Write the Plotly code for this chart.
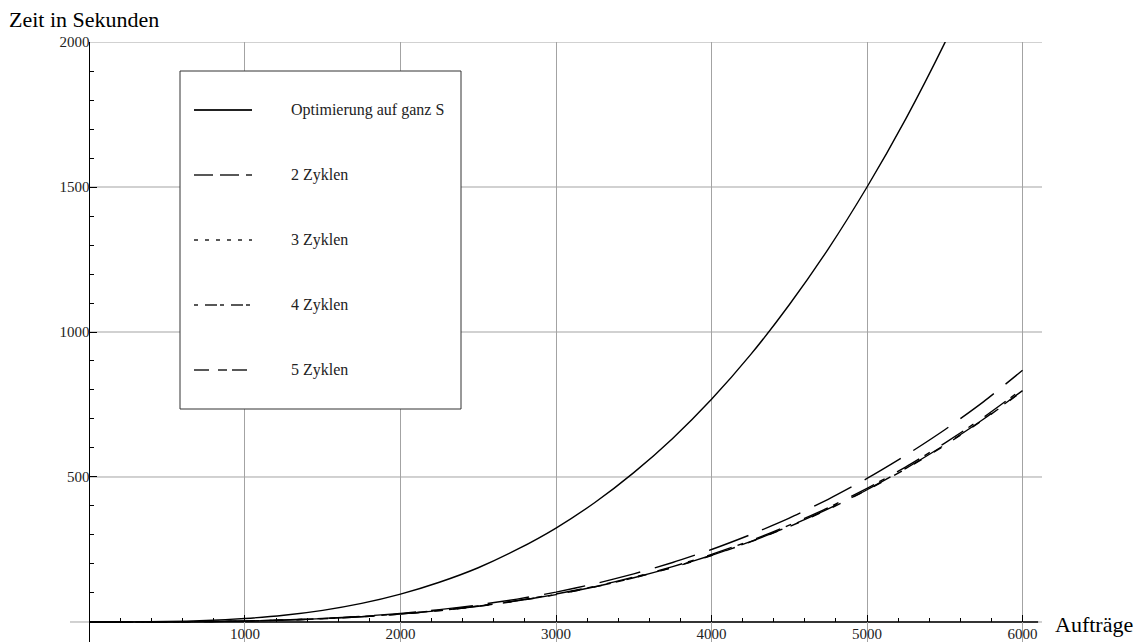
import plotly.graph_objects as go

# Auftragszahlen (x) und gemessene Rechenzeiten in Sekunden (y)
auftraege_ganz = [0, 250, 500, 750, 1000, 1250, 1500, 1750, 2000, 2250, 2500, 2750,
                  3000, 3250, 3500, 3750, 4000, 4250, 4500, 4750, 5000, 5250, 5500, 5750]
zeit_ganz = [0, 0.2, 1.5, 5, 12, 23, 40, 64, 96, 137, 187, 250,
             324, 412, 515, 633, 768, 921, 1094, 1286, 1500, 1736, 1997, 2282]

auftraege = [0, 250, 500, 750, 1000, 1250, 1500, 1750, 2000, 2250, 2500, 2750,
             3000, 3250, 3500, 3750, 4000, 4250, 4500, 4750, 5000, 5250, 5500, 5750, 6000]
zeit_2 = [0, 0.05, 0.4, 1.3, 3.3, 6.5, 11.3, 18, 27.5, 39.5, 54.5, 73,
          95, 121.5, 152.5, 188.5, 230, 277, 330, 390, 456, 530, 611, 700, 798]
zeit_3 = [0, 0.05, 0.4, 1.3, 3.2, 6.4, 11.2, 18, 27, 39, 54, 72.5,
          94.5, 121, 152, 188, 229, 276, 329, 388, 455, 528, 609, 698, 796]
zeit_4 = [0, 0.05, 0.4, 1.4, 3.3, 6.6, 11.5, 18.4, 27.8, 40, 55, 74,
          96.5, 123, 154.5, 191, 233, 280, 334, 394, 461, 535, 617, 706, 804]
zeit_5 = [0, 0.05, 0.42, 1.5, 3.5, 7, 12.3, 19.7, 29.7, 42.6, 59, 79,
          103, 132, 166, 205, 250, 301, 358, 423, 495, 575, 663, 760, 868]

serien = [
    ("Optimierung auf ganz S", auftraege_ganz, zeit_ganz, "solid", "solid"),
    ("2 Zyklen", auftraege, zeit_2, "44px,16px", "19px,7px"),
    ("3 Zyklen", auftraege, zeit_3, "9px,14px", "4px,7px"),
    ("4 Zyklen", auftraege, zeit_4, "26px,6px,6px,14px", "4px,7px,12px,3px"),
    ("5 Zyklen", auftraege, zeit_5, "42px,15px", "15px,9px,9px,5px"),
]

x_ticks = [1000, 2000, 3000, 4000, 5000, 6000]
y_ticks = [500, 1000, 1500, 2000]

XR = [-125, 6125]
YR = [-69, 2000]

W, H = 1144, 642
ML, MR, MT, MB = 70, 102, 42, 0
FONT = "Liberation Serif"
GRID = "#a3a3a3"


def px_x(p):
    return (p - ML) / (W - ML - MR)


def px_y(p):
    return (H - MB - p) / (H - MT - MB)


fig = go.Figure()
for name, xs, ys, dash, _ in serien:
    fig.add_trace(go.Scatter(
        x=xs, y=ys, name=name, mode="lines", showlegend=False,
        line=dict(color="black", width=1.4, dash=dash, shape="spline", smoothing=0.6),
        hoverinfo="skip",
    ))

shapes = []
# horizontal grid lines start at the vertical axis
for v in y_ticks:
    shapes.append(dict(type="line", xref="x", yref="y", x0=0, x1=XR[1], y0=v, y1=v,
                       line=dict(color=GRID, width=1), layer="below"))
shapes.append(dict(type="line", xref="x", yref="y", x0=XR[0], x1=XR[1], y0=0, y1=0,
                   line=dict(color=GRID, width=1), layer="below"))
# horizontal axis line
shapes.append(dict(type="line", xref="x", yref="y", x0=0, x1=6100, y0=0, y1=0,
                   line=dict(color="black", width=1.3), layer="below"))

# legend frame and samples
shapes.append(dict(type="rect", xref="paper", yref="paper",
                   x0=px_x(180), x1=px_x(461), y0=px_y(409), y1=px_y(71),
                   line=dict(color="#333333", width=1), fillcolor="white", layer="above"))
annotations = []
legend_rows = [110, 175, 240, 305, 370]
for (name, _, _, _, ldash), row in zip(serien, legend_rows):
    shapes.append(dict(type="line", xref="paper", yref="paper",
                       x0=px_x(194), x1=px_x(252), y0=px_y(row), y1=px_y(row),
                       line=dict(color="#222222", width=1.8 if ldash == "solid" else 1.3, dash=ldash),
                       layer="above"))
    annotations.append(dict(text=name, xref="paper", yref="paper", x=px_x(289), y=px_y(row),
                            xanchor="left", yanchor="middle", showarrow=False,
                            font=dict(family=FONT, size=16, color="#222222")))

annotations.append(dict(text="Zeit in Sekunden", xref="paper", yref="paper",
                        x=px_x(7), y=px_y(19), xanchor="left", yanchor="middle",
                        showarrow=False, font=dict(family=FONT, size=22, color="black")))
annotations.append(dict(text="Aufträge", xref="paper", yref="paper",
                        x=px_x(1053), y=px_y(624), xanchor="left", yanchor="middle",
                        showarrow=False, font=dict(family=FONT, size=22, color="black")))

fig.update_layout(
    width=W, height=H,
    margin=dict(l=ML, r=MR, t=MT, b=MB, pad=0),
    paper_bgcolor="white", plot_bgcolor="white",
    font=dict(family=FONT, color="black"),
    shapes=shapes, annotations=annotations,
    xaxis=dict(
        range=XR, showgrid=True, gridcolor=GRID, gridwidth=1,
        tickmode="array", tickvals=x_ticks, ticktext=[str(v) for v in x_ticks],
        ticks="inside", ticklen=7, tickcolor="black", tickwidth=1,
        tickfont=dict(family=FONT, size=15, color="#222222"), ticklabelstandoff=1,
        minor=dict(tickmode="linear", tick0=0, dtick=200, ticks="inside", ticklen=4,
                   tickcolor="black", showgrid=False),
        zeroline=True, zerolinecolor="black", zerolinewidth=1.3,
        showline=False, anchor="free", position=(0 - YR[0]) / (YR[1] - YR[0]),
        automargin=False, fixedrange=True,
    ),
    yaxis=dict(
        range=YR, showgrid=False,
        tickmode="array", tickvals=y_ticks, ticktext=[str(v) for v in y_ticks],
        ticks="inside", ticklen=7, tickcolor="black", tickwidth=1,
        tickfont=dict(family=FONT, size=15, color="#222222"),
        minor=dict(tickmode="linear", tick0=0, dtick=100, ticks="inside", ticklen=4,
                   tickcolor="black", showgrid=False),
        zeroline=False, showline=False,
        anchor="free", position=(0 - XR[0]) / (XR[1] - XR[0]),
        automargin=False, fixedrange=True,
    ),
)

fig.write_html("out.html")
